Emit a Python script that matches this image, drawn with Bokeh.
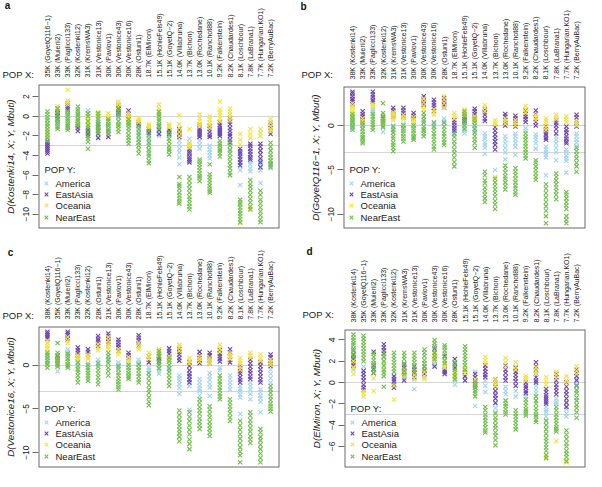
import math
from bokeh.plotting import figure
from bokeh.models import Range1d, FixedTicker
from bokeh.core.properties import value
from bokeh.layouts import column, row
from bokeh.embed import file_html
from bokeh.resources import INLINE

FONT = "Liberation Sans"
GROUPS = ["America", "EastAsia", "Oceania", "NearEast"]
COLORS = ["#a2d4f2", "#6e43b0", "#f3e43c", "#70c04c"]

# ---------------- panel a ----------------
A_XLAB = ["35K (GoyetQ116\u22121)", "33K (Muierii2)", "33K (Paglicci133)", "32K (Kostenki12)",
          "31K (KremsWA3)", "31K (Vestonice13)", "30K (Pavlov1)", "30K (Vestonice43)",
          "30K (Vestonice16)", "28K (Ostuni1)", "18.7K (ElMiron)", "15.1K (HohleFels49)",
          "15.1K (GoyetQ\u22122)", "14.0K (Villabruna)", "13.7K (Bichon)", "13.0K (Rochedane)",
          "10.1K (Ranchot88)", "9.2K (Falkenstein)", "8.2K (Chaudardes1)", "8.1K (Loschbour)",
          "7.8K (LaBrana1)", "7.7K (Hungarian.KO1)", "7.2K (BerryAuBac)"]
A_YTICKS = [-10, -8, -6, -4, -2, 0, 2]
A_AM = [[-0.3, -0.8, -1.4, -2.0, -2.5, -3.0], [0.3, -0.2, -0.5, -1.0], [0.5, 0.1, -0.2, -0.7],
        [0.2, -0.3, -0.6], [0.6, 0.3, -0.1, -0.5], [0.2, -0.2, -0.5, -1.0], [-0.5, -0.8, -1.0],
        [0.5, 0.2, 0.0, -0.5], [-0.3, -0.6, -0.8], [-1.5, -1.9, -2.3, -2.7, -3.0],
        [-2.0, -2.5, -3.0, -3.5, -4.0], [-1.5, -1.8, -2.0], [-1.4, -1.7, -2.0],
        [-2.5, -2.9, -3.3, -3.7, -4.2, -4.9], [-2.3, -2.7, -3.0, -3.4, -3.8, -4.4], [-2.5, -2.9, -3.3],
        [-3.0, -3.4, -3.7, -4.0, -4.3], [-1.0, -1.4, -2.0], [-2.0, -2.6, -3.0, -3.5],
        [-4.0, -4.3, -4.7, -5.1, -5.5, -7.0], [-3.8, -4.2, -4.6, -4.9, -5.3, -5.6],
        [-4.5, -4.9, -5.2, -5.5, -6.8], [-4.5, -4.9, -5.3]]
A_EA = [[-2.6, -2.8, -3.0, -3.2, -3.4, -3.6, -3.8], [0.8, 0.5, 0.3, 0.0, -0.3], [1.3, 1.1, 0.9, 0.7],
        [-0.8, -1.0, -1.2, -1.5], [-1.2, -1.4, -1.6, -1.8, -2.0], [-0.8, -1.1, -1.5, -1.8, -2.2],
        [-1.5, -1.8, -2.1], [1.1, 0.9, 0.7, 0.4, 0.2], [0.6, 0.3, 0.0, -0.3, -0.6], [-0.6, -0.8, -1.0],
        [-1.3, -1.5, -1.7], [-1.0, -1.4, -1.8], [-1.4, -1.6, -1.8], [-1.3, -1.5, -1.7, -1.9, -2.1],
        [-3.3, -3.6, -3.8, -4.1, -4.3, -4.5, -4.7], [-0.8, -1.0, -1.3, -1.5, -1.7, -1.9, -2.1],
        [-1.0, -1.3, -1.6, -1.9, -2.1], [-0.6, -0.9, -1.2, -1.4, -1.6, -1.8, -2.0],
        [-0.2, -0.5, -0.8, -1.2, -1.5, -1.8, -2.0, -2.4, -2.7], [-3.3, -3.6, -3.8, -4.1, -4.4, -4.7, -5.0],
        [-2.8, -3.0, -3.3, -3.6, -3.9, -4.2, -4.4], [-2.8, -3.1, -3.5, -3.9, -4.3, -4.7, -5.2],
        [-0.6, -0.9, -1.2, -1.5, -1.8]]
A_OC = [[-1.0, -1.3, -1.5, -1.8, -2.0], [1.0, 0.8, 0.5], [2.7, 1.6, 1.4, 1.2], [-0.3, -0.5, -0.7],
        [-0.2, -0.4, -0.6, -0.8, -1.0], [0.4, 0.2, 0.0], [0.3, 0.0, -0.2], [1.5, 1.3, 1.0],
        [0.3, 0.0, -0.2, -0.4, -0.6], [-0.2, -0.4, -0.6], [-0.8, -1.0, -1.2], [1.2, 0.8, 0.4],
        [-0.8, -1.0, -1.1], [0.1, -0.8, -1.2, -1.6, -2.0], [-1.3, -2.8, -3.0, -3.2],
        [0.2, -0.2, -0.5, -0.8, -1.0], [0.0, -0.3, -0.6, -0.9, -1.2], [1.5, 0.7, 0.4, 0.1, -0.2, -0.5],
        [0.8, 0.5, 0.2, -0.1, -0.4], [-1.8, -2.4, -2.9, -10.9], [-1.3, -1.8, -2.2, -9.4],
        [-1.3, -1.7, -2.0], [-0.3, -0.6, -1.0, -1.3, -1.5]]
A_NE = [[0.5, 0.2, -0.1, -0.4, -0.7, -1.0, -1.3, -1.6, -1.9, -2.2, -2.5],
        [0.8, 0.5, 0.2, -0.1, -0.3, -0.6, -0.8, -1.1, -1.3],
        [0.5, 0.2, 0.0, -0.3, -0.5, -0.8, -1.0, -1.2, -1.4],
        [1.0, 0.7, 0.5, 0.2, 0.0, -0.3, -0.5, -0.8, -1.0],
        [0.3, 0.0, -0.5, -0.9, -1.2, -1.6, -2.0, -2.3, -2.6, -3.3],
        [0.3, 0.0, -0.3, -0.6, -0.8, -1.1, -1.3, -1.5, -1.7],
        [-0.3, -0.5, -0.8, -1.0, -1.3, -1.5, -1.8],
        [0.8, 0.5, 0.2, -0.1, -0.5, -0.8, -1.0, -1.3, -1.6],
        [-0.3, -0.6, -0.9, -1.2, -1.5, -1.9, -2.2, -2.5, -2.8],
        [-1.0, -1.3, -1.7, -2.0, -2.4, -2.7, -3.0, -3.4, -3.8],
        [-1.5, -1.9, -2.3, -2.7, -3.0, -3.4, -3.8, -4.1, -4.5, -4.8],
        [0.5, 0.2, 0.0, -0.3, -0.5, -0.8, -1.0, -1.3],
        [-1.6, -1.9, -2.3, -2.6, -3.0, -3.3, -3.5, -3.9],
        [-6.2, -6.9, -7.1, -7.4, -7.8, -8.1, -8.4, -8.7, -8.9],
        [-6.2, -6.6, -7.0, -7.4, -7.8, -8.2, -8.5, -8.9, -9.2, -9.5],
        [-4.4, -4.6, -4.9, -5.2, -5.5, -5.8, -6.1, -6.3, -6.6],
        [-4.9, -5.9, -6.2, -6.5, -6.8, -7.1, -7.4, -7.6, -7.8],
        [-2.5, -2.8, -3.0, -3.3, -3.5, -3.8, -4.1],
        [-2.6, -3.0, -3.4, -3.8, -4.2, -4.6, -5.0, -5.3, -5.7, -6.0],
        [-8.5, -8.8, -9.0, -9.3, -9.6, -9.9, -10.2, -10.5, -10.8],
        [-6.5, -6.9, -7.2, -7.6, -8.0, -8.4, -8.8, -9.2, -9.5],
        [-7.6, -8.0, -8.5, -8.9, -9.3, -9.7, -10.1, -10.5, -10.8],
        [-2.7, -3.1, -3.5, -3.9, -4.2, -4.5, -4.8, -5.0, -5.2]]

# ---------------- panel b ----------------
B_XLAB = ["38K (Kostenki14)", "33K (Muierii2)", "33K (Paglicci133)", "32K (Kostenki12)",
          "31K (KremsWA3)", "31K (Vestonice13)", "30K (Pavlov1)", "30K (Vestonice43)",
          "30K (Vestonice16)", "28K (Ostuni1)", "18.7K (ElMiron)", "15.1K (HohleFels49)",
          "15.1K (GoyetQ\u22122)", "14.0K (Villabruna)", "13.7K (Bichon)", "13.0K (Rochedane)",
          "10.1K (Ranchot88)", "9.2K (Falkenstein)", "8.2K (Chaudardes1)", "8.1K (Loschbour)",
          "7.8K (LaBrana1)", "7.7K (Hungarian.KO1)", "7.2K (BerryAuBac)"]
B_YTICKS = [-10, -5, 0]
B_AM = [[1.0, 0.6, 0.3, 0.0, -0.3], [0.2, 0.0, -0.3], [1.9, 1.7, 1.5], [0.3, -0.2, -0.7],
        [0.0, -0.3, -0.5], [0.2, 0.0, -0.3], [0.2, 0.0], [1.0, 0.6, 0.3], [0.4, 0.1, -0.2],
        [0.8, 0.5, 0.3], [-0.5, -0.8, -1.0], [0.5, 0.1, -0.2, -0.6, -0.9], [0.0, -0.3, -0.6],
        [-0.9, -1.2, -1.5, -1.9, -2.2, -2.5, -3.2], [-1.0, -1.4, -1.8, -2.1, -5.0],
        [-1.2, -1.6, -2.0, -2.5, -3.0, -3.8], [-0.9, -1.2, -1.6, -2.0, -2.4, -3.3], [-0.3, -0.6],
        [-1.0, -1.3, -1.6, -2.0, -2.6], [-2.4, -2.7, -3.0, -3.3, -3.6, -5.6],
        [-1.2, -1.6, -2.0, -2.5, -3.0, -3.9], [-2.7, -3.0, -3.4, -3.7, -4.0, -5.3],
        [-0.9, -1.2, -1.6, -1.9, -2.3]]
B_EA = [[3.8, 3.6, 3.3, 3.0, 2.8, 2.6, 2.4], [1.6, 1.3, 1.0, 0.7, 0.5], [3.8, 3.5, 3.2, 2.9, 2.7],
        [0.9, 0.7, 0.5], [2.0, 1.7, 1.5, 1.2, 1.0], [2.0, 1.7, 1.4, 1.1, 0.9], [1.4, 1.1, 0.8],
        [3.3, 3.0, 2.8, 2.5, 2.3], [2.9, 2.6, 2.3, 2.0, 1.6], [3.1, 2.8, 2.6, 2.3, 2.0],
        [0.6, 0.3, 0.0, -0.3, -0.6], [1.0, 0.7, 0.5], [1.9, 1.6, 1.3, 1.0, 0.6], [1.8, 1.5, 1.2, 0.8, 0.5],
        [-0.2, -0.6, -1.0, -1.4, -1.8, -2.2, -2.7], [1.3, 1.0, 0.6, 0.3, 0.0], [1.1, 0.8, 0.5, 0.2, -0.1],
        [1.7, 1.3, 1.0, 0.7, 0.4], [1.7, 1.3, 0.8, 0.4, 0.0], [-0.1, -0.4, -0.6, -0.9, -1.1, -1.4, -1.6],
        [0.6, 0.3, 0.0, -0.4, -0.9], [-0.1, -0.5, -0.8, -1.2, -1.5, -1.8, -2.0], [1.2, 0.9, 0.5, 0.2, -0.1]]
B_OC = [[2.5, 2.2, 2.0, 1.7, 1.5], [0.8, 0.5, 0.3], [2.4, 2.2, 2.1], [0.6, 0.4, 0.2],
        [1.5, 1.3, 1.1, 0.8, 0.6], [1.2, 0.9, 0.7], [0.9, 0.6, 0.4], [3.0, 2.6, 2.2, 1.8], [1.8, 1.5, 1.2],
        [3.3, 2.9, 2.5, 2.0], [1.4, 1.1, 0.8], [1.8, 1.5, 1.2], [1.0, 0.7, 0.5], [2.3, 2.0, 1.6],
        [0.6, 0.3, 0.1, -5.8], [0.8, 0.5, 0.2], [0.6, 0.3, 0.0], [2.2, 1.8, 1.4], [1.2, 0.9, 0.6],
        [0.8, 0.5, 0.2, -0.2, -0.5], [1.2, 0.9, 0.7], [1.0, 0.7, 0.4], [0.5, 0.2, 0.0]]
B_NE = [[1.3, 1.0, 0.8, 0.5, 0.3, 0.0, -0.2, -0.5], [0.3, 0.0, -0.4, -0.7, -1.0, -1.3, -1.5, -1.8, -2.0],
        [1.3, 1.0, 0.7, 0.4, 0.1, -0.2, -0.5], [2.5, 1.4, 1.1, 0.8, 0.5, 0.3, 0.0, -0.2],
        [-0.1, -0.5, -0.8, -1.2, -1.5, -1.9, -2.2, -2.5, -2.9], [0.0, -0.3, -0.6, -0.9, -1.2, -1.5, -1.8],
        [0.0, -0.3, -0.6, -0.9, -1.2, -1.4, -1.6], [1.4, 1.0, 0.6, 0.3, -0.1, -0.4, -0.6, -0.9, -1.2],
        [0.3, -0.1, -0.5, -0.9, -1.2, -1.6, -2.0, -2.4, -2.7], [0.3, -0.1, -0.5, -0.9, -1.2, -1.6, -1.9, -2.2],
        [-0.9, -1.3, -1.8, -2.2, -2.7, -3.1, -3.6, -4.1, -4.6], [1.6, 1.3, 1.0, 0.6, 0.3, 0.0, -0.4],
        [0.8, 0.4, 0.0, -0.4, -0.8, -1.2, -1.6, -2.0, -2.5],
        [-5.2, -5.6, -6.2, -6.5, -7.0, -7.4, -7.8, -8.2, -8.6],
        [-6.0, -6.4, -6.8, -7.2, -7.6, -8.0, -8.5, -8.9, -9.4],
        [-4.5, -4.9, -5.3, -5.7, -6.0, -6.4, -6.8, -7.2], [-4.8, -5.2, -5.6, -6.0, -6.4, -6.8, -7.1, -7.5, -7.8],
        [-0.9, -1.3, -1.6, -2.0, -2.3, -2.7, -3.0, -3.4, -3.7], [-3.9, -4.2, -4.6, -5.0, -5.4, -5.8, -6.1],
        [-6.6, -7.1, -7.6, -8.1, -8.6, -9.1, -9.6, -10.2, -11.0], [-5.4, -5.8, -6.2, -6.6, -7.0, -7.4, -7.8, -8.3],
        [-7.5, -7.8, -8.2, -8.6, -9.0, -9.4, -10.2, -10.6, -11.0], [-2.5, -2.9, -3.3, -3.7, -4.2, -4.6, -5.2]]

# ---------------- panel c ----------------
C_XLAB = ["38K (Kostenki14)", "35K (GoyetQ116\u22121)", "33K (Muierii2)", "33K (Paglicci133)",
          "32K (Kostenki12)", "28K (Ostuni1)", "31K (Vestonice13)", "30K (Pavlov1)",
          "30K (Vestonice43)", "28K (Ostuni1)", "18.7K (ElMiron)", "15.1K (HohleFels49)",
          "15.1K (GoyetQ\u22122)", "14.0K (Villabruna)", "13.7K (Bichon)", "13.0K (Rochedane)",
          "10.1K (Ranchot88)", "9.2K (Falkenstein)", "8.2K (Chaudardes1)", "8.1K (Loschbour)",
          "7.8K (LaBrana1)", "7.7K (Hungarian.KO1)", "7.2K (BerryAuBac)"]
C_YTICKS = [-10, -5, 0]
C_AM = [[1.2, 0.8, 0.5], [0.5, 0.0, -0.7], [1.8, 1.5, 1.2], [0.2, -0.1, -0.4], [0.2, 0.0], [0.6, 0.3, 0.0],
        [1.0, 0.7, 0.4], [0.3, 0.0, -0.3], [0.2, 0.0], [0.6, 0.3, 0.0], [-0.3, -0.6, -0.9],
        [0.4, 0.0, -0.3, -0.7, -1.0], [0.0, -0.3, -0.6], [-1.2, -1.5, -1.8, -2.2, -2.6, -3.3],
        [-1.2, -1.6, -2.0, -2.4, -5.1], [-1.6, -2.0, -2.4, -2.7, -3.0, -3.5],
        [-0.9, -1.3, -1.7, -2.2, -2.6, -3.5], [-0.3, -0.6], [-1.2, -1.6, -2.0, -2.4, -2.8],
        [-2.4, -2.7, -3.0, -3.4, -3.7, -5.6], [-2.0, -2.4, -2.8, -3.3, -3.9],
        [-2.8, -3.1, -3.5, -3.8, -4.2, -5.4], [-0.5, -1.0, -1.5, -2.0, -2.8]]
C_EA = [[3.8, 3.6, 3.4, 3.2, 3.0], [1.0, 0.7, 0.5], [3.8, 3.6, 3.4, 3.1, 2.9], [2.0, 1.7, 1.4, 1.1, 0.8],
        [1.8, 1.5, 1.2], [3.3, 3.0, 2.8, 2.5, 2.2], [3.6, 3.3, 3.0, 2.7, 2.4], [2.9, 2.6, 2.3, 2.0, 1.6],
        [1.4, 1.1, 0.8], [3.4, 3.1, 2.8, 2.5, 2.2], [1.0, 0.6, 0.3], [1.0, 0.7, 0.4],
        [1.9, 1.6, 1.3, 1.0, 0.6], [1.8, 1.5, 1.2, 0.8, 0.5], [0.3, -0.1, -0.6, -1.0, -1.3, -1.7, -2.0],
        [1.5, 1.1, 0.8, 0.5, 0.2], [1.4, 1.1, 0.8, 0.5, 0.2], [1.7, 1.3, 1.0, 0.7, 0.4],
        [1.8, 1.4, 1.0, 0.6, 0.3], [-0.1, -0.4, -0.7, -1.0, -1.4, -1.7, -2.0],
        [0.6, 0.2, -0.2, -0.6, -0.9, -1.3, -1.6], [0.3, -0.1, -0.5, -0.9, -1.3, -1.7, -2.0],
        [1.2, 0.9, 0.5, 0.2, -0.1]]
C_OC = [[2.8, 2.5, 2.2, 1.9, 1.6], [0.8, 0.5, 0.3], [3.2, 2.8, 2.5], [1.1, 0.8, 0.6], [1.2, 0.9, 0.7],
        [2.4, 2.0, 1.7], [3.2, 2.8, 2.4, 2.1, 1.8], [1.8, 1.5, 1.2], [0.9, 0.6, 0.4], [2.5, 2.1, 1.8],
        [1.4, 1.0, 0.7], [1.8, 1.5, 1.2], [1.0, 0.7, 0.5], [2.3, 2.0, 1.6], [0.8, 0.5, 0.2], [1.0, 0.7, 0.4],
        [0.8, 0.5, 0.2], [2.3, 1.9, 1.5], [1.3, 1.0, 0.7], [0.8, 0.5, 0.2, -0.2, -0.5], [1.4, 1.1, 0.8],
        [1.2, 0.8, 0.5], [0.6, 0.3, 0.0]]
C_NE = [[1.4, 1.1, 0.8, 0.5, 0.2, 0.0, -0.3], [2.5, 1.4, 1.1, 0.8, 0.5, 0.2, 0.0, -0.2],
        [1.3, 1.0, 0.7, 0.4, 0.1, -0.1, -0.3], [0.3, -0.1, -0.5, -0.8, -1.2, -1.6, -2.0],
        [0.0, -0.3, -0.6, -0.9, -1.2, -1.5, -1.8], [0.2, -0.2, -0.6, -1.0, -1.4, -1.8, -2.2],
        [1.4, 1.0, 0.6, 0.2, -0.3, -0.7, -1.2], [-0.1, -0.5, -0.9, -1.2, -1.6, -1.9, -2.2, -2.5, -2.8],
        [0.0, -0.3, -0.6, -0.9, -1.2, -1.4, -1.6], [0.1, -0.3, -0.6, -1.0, -1.3, -1.7, -2.0],
        [-0.9, -1.3, -1.8, -2.3, -2.8, -3.2, -3.7, -4.2, -4.6], [1.6, 1.3, 1.0, 0.6, 0.3, 0.0, -0.4],
        [0.8, 0.4, 0.0, -0.4, -0.8, -1.2, -1.6, -2.0, -2.4],
        [-5.2, -5.7, -6.2, -6.6, -7.0, -7.4, -7.8, -8.2, -8.7],
        [-5.4, -5.9, -6.4, -6.9, -7.4, -7.9, -8.5, -9.0, -9.6],
        [-3.9, -4.3, -4.8, -5.2, -5.6, -6.1, -6.5, -6.9, -7.3],
        [-4.7, -5.1, -5.6, -6.0, -6.5, -6.9, -7.3, -7.7, -8.1],
        [-1.2, -1.5, -1.9, -2.2, -2.6, -2.9, -3.3, -3.6, -3.9], [-3.9, -4.3, -4.7, -5.1, -5.5, -6.0, -6.4],
        [-6.4, -6.9, -7.4, -7.9, -8.4, -8.9, -9.4, -9.9, -10.3, -11.1],
        [-5.4, -5.8, -6.3, -6.7, -7.2, -7.6, -8.1, -8.5, -8.9],
        [-7.3, -7.7, -8.2, -8.6, -9.1, -9.6, -10.1, -10.6, -11.1],
        [-2.4, -2.8, -3.2, -3.6, -4.0, -4.4, -4.7, -5.0, -5.3]]

# ---------------- panel d ----------------
D_XLAB = ["38K (Kostenki14)", "35K (GoyetQ116\u22121)", "33K (Muierii2)", "33K (Paglicci133)",
          "32K (Kostenki12)", "31K (KremsWA3)", "31K (Vestonice13)", "30K (Pavlov1)",
          "30K (Vestonice43)", "30K (Vestonice16)", "28K (Ostuni1)", "15.1K (HohleFels49)",
          "15.1K (GoyetQ\u22122)", "14.0K (Villabruna)", "13.7K (Bichon)", "13.0K (Rochedane)",
          "10.1K (Ranchot88)", "9.2K (Falkenstein)", "8.2K (Chaudardes1)", "8.1K (Loschbour)",
          "7.8K (LaBrana1)", "7.7K (Hungarian.KO1)", "7.2K (BerryAuBac)"]
D_YTICKS = [-8, -6, -4, -2, 0, 2, 4]
D_AM = [[2.5, 2.1, 1.7, 1.4, 1.2], [1.5, 1.1, 0.8], [1.5, 1.2, 0.9], [2.0, 1.5, 1.0], [0.5, 0.2],
        [1.0, 0.7, 0.4], [0.3, -0.6], [0.8, 0.5], [2.0, 1.7, 1.5], [1.5, 1.1, 0.8], [0.6, 0.2, -0.2],
        [0.5, 0.2], [1.0, 0.5, -0.8, -2.2], [0.2, -0.3, -0.9], [-1.0, -1.5, -2.0, -2.4, -2.8],
        [-0.4, -0.8, -1.1], [-0.3, -0.8, -1.3], [-0.5, -0.9, -1.3], [-0.3, -0.7, -1.0],
        [-2.3, -2.6, -2.8, -3.2, -3.6], [-1.5, -1.8, -2.0], [-1.8, -2.2, -2.5, -2.9, -3.2], [0.3, -0.2, -0.8]]
D_EA = [[3.0, 2.6, 2.2, 1.9, 1.6], [1.1, 0.8, 0.5, 0.2, -0.2, -0.5, -0.7], [2.9, 1.6, 1.3, 0.9],
        [3.6, 3.3, 3.0, 2.7, 2.4], [0.6, 0.3, 0.1, -0.2, -0.5], [1.7, 1.4, 1.0, 0.6, 0.2],
        [1.5, 1.2, 0.9, 0.5], [1.5, 1.1, 0.8], [3.2, 2.8, 2.5, 2.0, 1.5], [2.5, 1.2, 1.0, 0.8],
        [2.2, 1.8, 1.4], [1.0, 0.6, 0.2], [0.8, 0.5, 0.2, -0.2, -0.5], [1.6, 1.3, 1.0, 0.7, 0.5],
        [0.3, 0.0, -0.4, -0.8, -1.2, -1.5, -1.9], [1.6, 1.2, 0.9, 0.5, 0.2], [1.4, 1.0, 0.7, 0.4, 0.1, -0.3],
        [0.0, -0.3, -0.5, -0.8, -1.0], [1.9, 1.5, 1.2, 0.8, 0.5, 0.2, 0.0],
        [-0.6, -0.9, -1.2, -1.4, -1.6, -1.8, -2.0], [0.8, 0.5, 0.2, -0.2, -0.5, -0.8, -1.1],
        [0.0, -0.4, -0.8, -1.1, -1.5, -1.9, -2.3], [1.2, 0.9, 0.6, 0.2, -0.3]]
D_OC = [[2.0, 1.4, 0.8], [-0.8, -1.0, -1.3], [0.4, -0.8], [2.5, 1.8, 1.2], [-0.3, -1.6], [1.2, 0.9, 0.6],
        [1.0, 0.7, 0.4], [1.0, 0.6, 0.3], [2.6, 2.3, 2.0], [2.0, 1.7, 1.4], [1.0, 0.7, 0.4], [1.4, 1.1, 0.9],
        [0.3, 0.0, -0.3], [2.4, 2.1, 1.8], [0.3, 0.0, -0.3], [2.3, 1.9, 1.5], [1.9, 1.5, 1.2],
        [0.6, 0.4, 0.2], [1.4, 1.1, 0.8], [0.5, 0.1, -0.2, -6.8, -7.0], [1.0, 0.7, 0.4, -5.5],
        [0.6, 0.2, -0.1, -7.3, -7.5], [1.5, 1.1, 0.8]]
D_NE = [[4.5, 4.2, 4.0, 3.7, 3.5, 3.2, 3.0, 2.7, 2.4], [4.4, 4.1, 3.8, 3.5, 3.2, 2.9, 2.6, 2.3, 2.0],
        [2.7, 2.4, 2.1, 1.8, 1.5, 1.2, 0.9], [2.8, 2.4, 2.0, 1.6, 1.2, 0.9, 0.6, -0.4],
        [2.8, 2.5, 2.2, 1.9, 1.6, 1.3, 1.0], [2.8, 2.5, 2.2, 1.8, 1.5, 1.1, 0.8],
        [2.8, 2.5, 2.2, 1.9, 1.6, 1.3, 1.0], [3.1, 2.8, 2.5, 2.1, 1.8, 1.5, 1.2],
        [4.0, 3.7, 3.4, 3.1, 2.8, 2.5, 2.2], [3.5, 3.3, 3.0, 2.7, 2.4, 2.1, 1.8],
        [1.9, 1.6, 1.2, 0.9, 0.6, 0.3], [3.4, 3.1, 2.8, 2.5, 2.2, 1.9, 1.6, 1.2],
        [0.0, -0.3, -0.5, -0.8, -1.0, -1.3], [-2.3, -2.6, -3.0, -3.3, -3.6, -3.9, -4.2, -4.5, -4.7],
        [-2.9, -3.3, -3.6, -4.0, -4.3, -4.7, -5.0, -5.4, -5.9], [-1.7, -2.0, -2.2, -2.5, -2.8, -3.0],
        [-2.6, -2.9, -3.2, -3.5, -3.8, -4.1, -4.4], [-1.6, -1.9, -2.2, -2.5, -2.7, -2.9, -3.1],
        [-1.3, -1.7, -2.0, -2.4, -2.7, -3.0, -3.2, -3.5, -3.7],
        [-3.6, -4.0, -4.4, -4.8, -5.2, -5.5, -5.8, -6.1, -6.4, -6.8, -7.1],
        [-2.3, -2.6, -3.0, -3.3, -3.6, -3.9, -4.2, -4.4, -4.6],
        [-4.5, -4.9, -5.3, -5.7, -6.0, -6.4, -6.7, -7.0, -7.4],
        [-0.3, -0.7, -1.0, -1.4, -1.7, -2.1, -2.4, -2.8, -3.3]]

REF_LINES = [0, -3]
TXT = "#222222"
BOX = "#6a6a6a"


def make_panel(letter, ylabel, xlabels, series, yticks, W, Htot, L, R, Ttot, B, popx_xy, letter_xy):
    # ranges padded by 4 % as R does
    allv = [v for s in series for col in s for v in col]
    lo, hi = min(allv), max(allv)
    pad = 0.04 * (hi - lo)
    y0, y1 = lo - pad, hi + pad
    n = len(xlabels)
    xpad = 0.04 * (n - 1)
    x0, x1 = 1 - xpad, n + xpad

    TM = 2
    header_h = Ttot - TM
    main_h = Htot - header_h
    fw = W - L - R
    fh = main_h - TM - B
    u = (x1 - x0) / fw
    v = (y1 - y0) / fh

    # ---- header: category labels, "POP X:", panel letter ----
    hd = figure(width=W, height=header_h, x_range=Range1d(x0 - L * u, x0 + (W - L) * u),
                y_range=Range1d(0, header_h), output_backend="svg", toolbar_location=None,
                x_axis_location=None, y_axis_location=None, title=None, min_border=0,
                min_border_left=0, min_border_right=0, min_border_top=0, min_border_bottom=0,
                frame_align=False)
    hd.outline_line_color = None
    hd.grid.visible = False
    hd.background_fill_color = "white"
    hd.border_fill_color = "white"
    hd.text(x=list(range(1, n + 1)), y=[5] * n, text=xlabels, angle=math.pi / 2,
            text_align="left", text_baseline="middle", text_font=value(FONT),
            text_font_size=value("7px"), text_color=TXT)
    hd.text(x=[x0 + (popx_xy[0] - L) * u], y=[header_h - popx_xy[1]], text=["POP X:"],
            text_align="left", text_baseline="middle", text_font=value(FONT),
            text_font_size=value("9.5px"), text_color=TXT)
    hd.text(x=[x0 + (letter_xy[0] - L) * u], y=[header_h - letter_xy[1]], text=[letter],
            text_align="center", text_baseline="middle", text_font=value(FONT),
            text_font_size=value("10px"), text_font_style="bold", text_color="#111111")

    # ---- main plot ----
    p = figure(width=W, height=main_h, x_range=Range1d(x0, x1), y_range=Range1d(y0, y1),
               output_backend="svg", toolbar_location=None, x_axis_location=None,
               y_axis_location="left", title=None, min_border_left=L, min_border_right=R,
               min_border_top=TM, min_border_bottom=B, frame_align=False)
    p.grid.visible = False
    p.outline_line_color = None
    p.background_fill_color = "white"
    p.border_fill_color = "white"

    p.hspan(y=REF_LINES, line_color="#d6d6d6", line_width=1)

    for g, col, s in zip(GROUPS, COLORS, series):
        xs, ys = [], []
        for ci, vals in enumerate(s):
            for val in vals:
                xs.append(ci + 1)
                ys.append(val)
        p.scatter(xs, ys, marker="x", size=6, line_color=col, line_width=1.1)

    # legend drawn as glyphs inside the frame
    ly = [y0 + b * v for b in (45, 34, 23, 11)]
    p.scatter(x=[x0 + 8 * u] * 4, y=ly, marker="x", size=5, line_color=COLORS, line_width=1.1)
    p.text(x=[x0 + 17 * u] * 4, y=ly, text=GROUPS, text_align="left", text_baseline="middle",
           text_font=value(FONT), text_font_size=value("9.5px"), text_color=TXT)
    p.text(x=[x0 + 6 * u], y=[y0 + 59 * v], text=["POP Y:"], text_align="left",
           text_baseline="middle", text_font=value(FONT), text_font_size=value("9.5px"),
           text_color=TXT)

    # plot box
    p.quad(left=[x0], right=[x1], bottom=[y0], top=[y1], fill_color=None,
           line_color=BOX, line_width=2)

    ya = p.yaxis[0]
    ya.ticker = FixedTicker(ticks=yticks)
    ya.major_label_overrides = {t: str(t).replace("-", "\u2212") for t in yticks}
    ya.major_label_orientation = "vertical"
    ya.major_tick_out = 6
    ya.major_tick_in = 0
    ya.minor_tick_out = 0
    ya.minor_tick_in = 0
    ya.axis_line_color = None
    ya.major_tick_line_color = BOX
    ya.major_label_standoff = 3
    ya.major_label_text_font_size = "8.5px"
    ya.major_label_text_font = FONT
    ya.major_label_text_color = TXT
    ya.axis_label = ylabel
    ya.axis_label_text_font_style = "italic"
    ya.axis_label_text_font_size = "9.8px"
    ya.axis_label_text_font = FONT
    ya.axis_label_text_color = TXT
    ya.axis_label_standoff = 5
    return column(hd, p)


pa = make_panel("a", "D(Kostenki14, X; Y, Mbuti)", A_XLAB, [A_AM, A_EA, A_OC, A_NE], A_YTICKS,
                293, 235, 38, 14, 84, 7, (2, 74), (7, 5))
pb = make_panel("b", "D(GoyetQ116\u22121, X; Y, Mbuti)", B_XLAB, [B_AM, B_EA, B_OC, B_NE], B_YTICKS,
                293, 235, 50, 1, 86, 7, (8, 74), (10, 6))
pc = make_panel("c", "D(Vestonice16, X; Y, Mbuti)", C_XLAB, [C_AM, C_EA, C_OC, C_NE], C_YTICKS,
                293, 236, 38, 14, 91, 4, (2, 80), (10, 17))
pd = make_panel("d", "D(ElMiron, X; Y, Mbuti)", D_XLAB, [D_AM, D_EA, D_OC, D_NE], D_YTICKS,
                293, 236, 51, 1, 94, 4, (9, 79), (16, 16))

layout = column(row(pa, pb), row(pc, pd))
open("out.html", "w").write(file_html(layout, INLINE))
